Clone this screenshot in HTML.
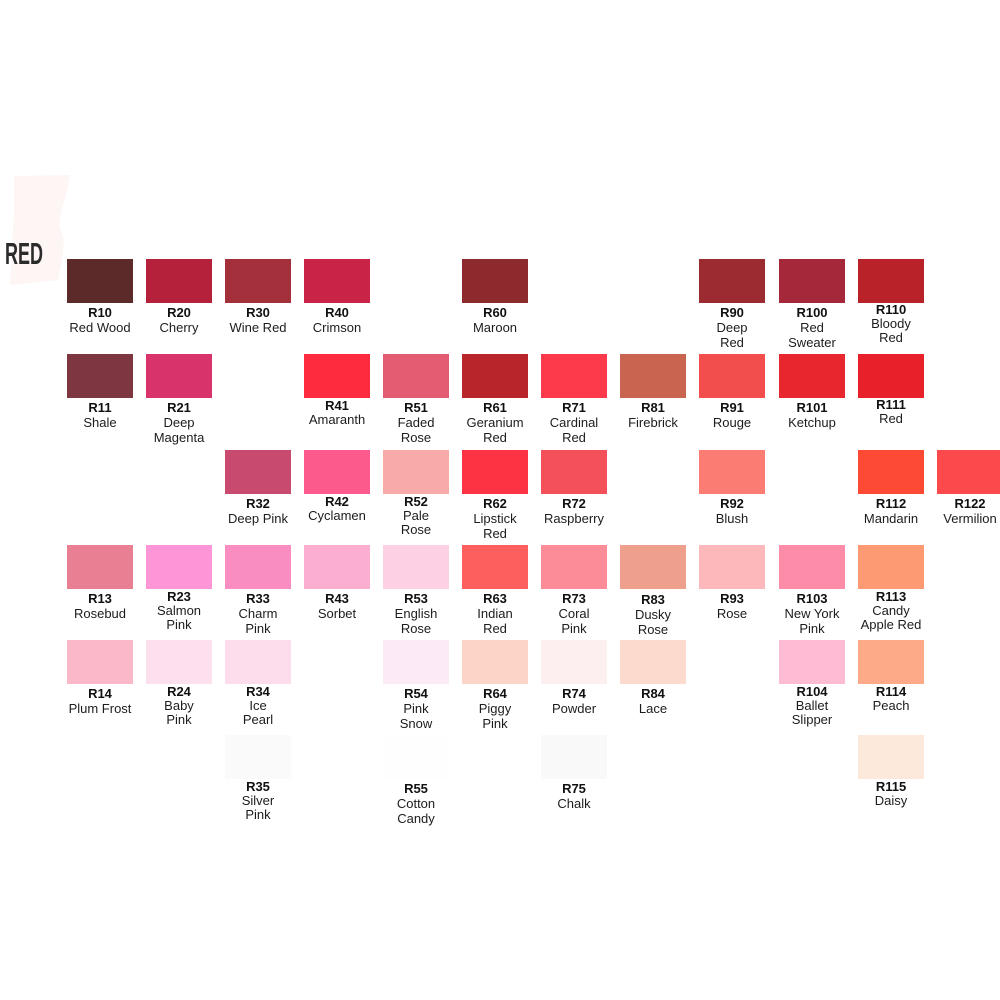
<!DOCTYPE html>
<html><head><meta charset="utf-8"><style>
html,body{margin:0;padding:0;background:#fff;}
body{width:1000px;height:1000px;position:relative;overflow:hidden;font-family:"Liberation Sans",sans-serif;}
.s{position:absolute;width:66px;height:44px;}
.l{position:absolute;width:110px;text-align:center;font-size:13px;line-height:15px;color:#1c1c1c;}
.l b{display:block;color:#111;}
#t{position:absolute;left:5px;top:236px;font-size:31px;font-weight:bold;color:#2b2b2b;transform:scaleX(0.58);transform-origin:left top;}
</style></head><body>
<svg style="position:absolute;left:0;top:0" width="100" height="300"><polygon points="14,176 70,175 66,195 61,212 59,225 64,240 62,262 58,280 30,283 10,285 12,250 14,210" fill="#fef5f5"/></svg>
<div id="t">RED</div>

<!-- Row 1 -->
<div class="s" style="left:67px;top:259px;background:#5c2a28"></div><div class="l" style="left:45px;top:305px"><b>R10</b>Red Wood</div>
<div class="s" style="left:146px;top:259px;background:#b5203a"></div><div class="l" style="left:124px;top:305px"><b>R20</b>Cherry</div>
<div class="s" style="left:225px;top:259px;background:#a3303a"></div><div class="l" style="left:203px;top:305px"><b>R30</b>Wine Red</div>
<div class="s" style="left:304px;top:259px;background:#c92448"></div><div class="l" style="left:282px;top:305px"><b>R40</b>Crimson</div>
<div class="s" style="left:462px;top:259px;background:#8d2a2e"></div><div class="l" style="left:440px;top:305px"><b>R60</b>Maroon</div>
<div class="s" style="left:699px;top:259px;background:#9c2a31"></div><div class="l" style="left:677px;top:305px"><b>R90</b>Deep<br>Red</div>
<div class="s" style="left:779px;top:259px;background:#a5283a"></div><div class="l" style="left:757px;top:305px"><b>R100</b>Red<br>Sweater</div>
<div class="s" style="left:858px;top:259px;background:#b82228"></div><div class="l" style="left:836px;top:303px;line-height:14px"><b>R110</b>Bloody<br>Red</div>

<!-- Row 2 -->
<div class="s" style="left:67px;top:354px;background:#7e3640"></div><div class="l" style="left:45px;top:400px"><b>R11</b>Shale</div>
<div class="s" style="left:146px;top:354px;background:#d9336c"></div><div class="l" style="left:124px;top:400px"><b>R21</b>Deep<br>Magenta</div>
<div class="s" style="left:304px;top:354px;background:#fd2b3e"></div><div class="l" style="left:282px;top:399px;line-height:14px"><b>R41</b>Amaranth</div>
<div class="s" style="left:383px;top:354px;background:#e45c72"></div><div class="l" style="left:361px;top:400px"><b>R51</b>Faded<br>Rose</div>
<div class="s" style="left:462px;top:354px;background:#b8262c"></div><div class="l" style="left:440px;top:400px"><b>R61</b>Geranium<br>Red</div>
<div class="s" style="left:541px;top:354px;background:#fc3a4c"></div><div class="l" style="left:519px;top:400px"><b>R71</b>Cardinal<br>Red</div>
<div class="s" style="left:620px;top:354px;background:#c96450"></div><div class="l" style="left:598px;top:400px"><b>R81</b>Firebrick</div>
<div class="s" style="left:699px;top:354px;background:#f24e4e"></div><div class="l" style="left:677px;top:400px"><b>R91</b>Rouge</div>
<div class="s" style="left:779px;top:354px;background:#e8262e"></div><div class="l" style="left:757px;top:400px"><b>R101</b>Ketchup</div>
<div class="s" style="left:858px;top:354px;background:#e8202a"></div><div class="l" style="left:836px;top:398px;line-height:14px"><b>R111</b>Red</div>

<!-- Row 3 -->
<div class="s" style="left:225px;top:450px;background:#c84a6e"></div><div class="l" style="left:203px;top:496px"><b>R32</b>Deep Pink</div>
<div class="s" style="left:304px;top:450px;background:#fb5a8c"></div><div class="l" style="left:282px;top:495px;line-height:14px"><b>R42</b>Cyclamen</div>
<div class="s" style="left:383px;top:450px;background:#f8aaa8"></div><div class="l" style="left:361px;top:495px;line-height:14px"><b>R52</b>Pale<br>Rose</div>
<div class="s" style="left:462px;top:450px;background:#fd3344"></div><div class="l" style="left:440px;top:496px"><b>R62</b>Lipstick<br>Red</div>
<div class="s" style="left:541px;top:450px;background:#f4505a"></div><div class="l" style="left:519px;top:496px"><b>R72</b>Raspberry</div>
<div class="s" style="left:699px;top:450px;background:#fb7c72"></div><div class="l" style="left:677px;top:496px"><b>R92</b>Blush</div>
<div class="s" style="left:858px;top:450px;background:#fd4a35"></div><div class="l" style="left:836px;top:496px"><b>R112</b>Mandarin</div>
<div class="s" style="left:937px;top:450px;background:#fc4a4c"></div><div class="l" style="left:915px;top:496px"><b>R122</b>Vermilion</div>

<!-- Row 4 -->
<div class="s" style="left:67px;top:545px;background:#e97f92"></div><div class="l" style="left:45px;top:591px"><b>R13</b>Rosebud</div>
<div class="s" style="left:146px;top:545px;background:#fd95d6"></div><div class="l" style="left:124px;top:590px;line-height:14px"><b>R23</b>Salmon<br>Pink</div>
<div class="s" style="left:225px;top:545px;background:#f98cc0"></div><div class="l" style="left:203px;top:591px"><b>R33</b>Charm<br>Pink</div>
<div class="s" style="left:304px;top:545px;background:#fcaed0"></div><div class="l" style="left:282px;top:591px"><b>R43</b>Sorbet</div>
<div class="s" style="left:383px;top:545px;background:#fed0e4"></div><div class="l" style="left:361px;top:591px"><b>R53</b>English<br>Rose</div>
<div class="s" style="left:462px;top:545px;background:#fd5e5e"></div><div class="l" style="left:440px;top:591px"><b>R63</b>Indian<br>Red</div>
<div class="s" style="left:541px;top:545px;background:#fc8c98"></div><div class="l" style="left:519px;top:591px"><b>R73</b>Coral<br>Pink</div>
<div class="s" style="left:620px;top:545px;background:#eea08c"></div><div class="l" style="left:598px;top:592px"><b>R83</b>Dusky<br>Rose</div>
<div class="s" style="left:699px;top:545px;background:#fdb8bc"></div><div class="l" style="left:677px;top:591px"><b>R93</b>Rose</div>
<div class="s" style="left:779px;top:545px;background:#fd8ca8"></div><div class="l" style="left:757px;top:591px"><b>R103</b>New York<br>Pink</div>
<div class="s" style="left:858px;top:545px;background:#fd9a74"></div><div class="l" style="left:836px;top:590px;line-height:14px"><b>R113</b>Candy<br>Apple Red</div>

<!-- Row 5 -->
<div class="s" style="left:67px;top:640px;background:#fbb8c8"></div><div class="l" style="left:45px;top:686px"><b>R14</b>Plum Frost</div>
<div class="s" style="left:146px;top:640px;background:#fde0ee"></div><div class="l" style="left:124px;top:685px;line-height:14px"><b>R24</b>Baby<br>Pink</div>
<div class="s" style="left:225px;top:640px;background:#fddcec"></div><div class="l" style="left:203px;top:685px;line-height:14px"><b>R34</b>Ice<br>Pearl</div>
<div class="s" style="left:383px;top:640px;background:#fceaf6"></div><div class="l" style="left:361px;top:686px"><b>R54</b>Pink<br>Snow</div>
<div class="s" style="left:462px;top:640px;background:#fdd5c8"></div><div class="l" style="left:440px;top:686px"><b>R64</b>Piggy<br>Pink</div>
<div class="s" style="left:541px;top:640px;background:#fdeff0"></div><div class="l" style="left:519px;top:686px"><b>R74</b>Powder</div>
<div class="s" style="left:620px;top:640px;background:#fddace"></div><div class="l" style="left:598px;top:686px"><b>R84</b>Lace</div>
<div class="s" style="left:779px;top:640px;background:#fdbcd4"></div><div class="l" style="left:757px;top:685px;line-height:14px"><b>R104</b>Ballet<br>Slipper</div>
<div class="s" style="left:858px;top:640px;background:#fdaa88"></div><div class="l" style="left:836px;top:685px;line-height:14px"><b>R114</b>Peach</div>

<!-- Row 6 -->
<div class="s" style="left:225px;top:735px;background:#fafafa"></div><div class="l" style="left:203px;top:780px;line-height:14px"><b>R35</b>Silver<br>Pink</div>
<div class="s" style="left:383px;top:735px;background:#fefefe"></div><div class="l" style="left:361px;top:781px"><b>R55</b>Cotton<br>Candy</div>
<div class="s" style="left:541px;top:735px;background:#f9f9f9"></div><div class="l" style="left:519px;top:781px"><b>R75</b>Chalk</div>
<div class="s" style="left:858px;top:735px;background:#fde8dc"></div><div class="l" style="left:836px;top:780px;line-height:14px"><b>R115</b>Daisy</div>
</body></html>
